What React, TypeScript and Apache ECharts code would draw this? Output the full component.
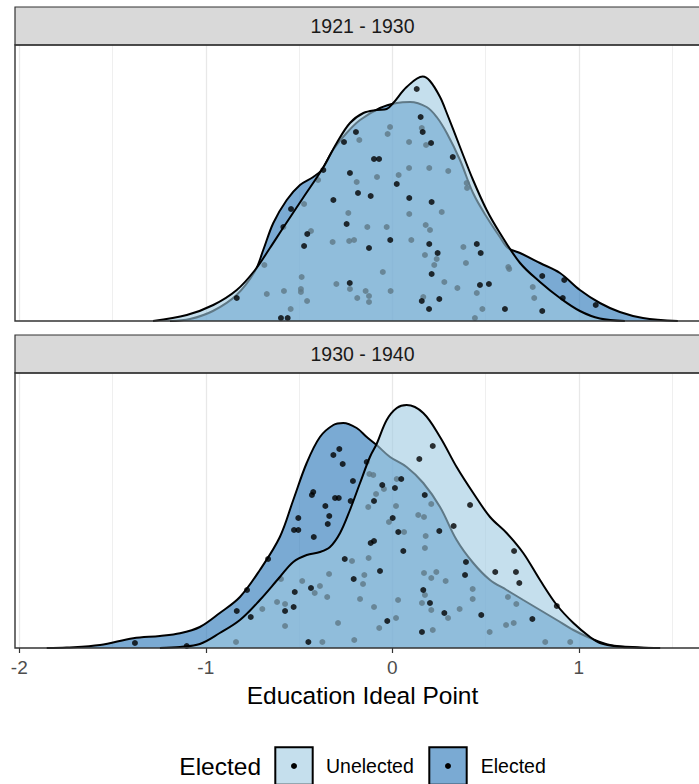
import React, { useEffect, useRef } from "react";
import * as echarts from "echarts";

// ---- Data ----
const panelTitles = ["1921 - 1930", "1930 - 1940"];
const groupNames = ["Unelected", "Elected"];
const legendTitle = "Elected";
const xTitle = "Education Ideal Point";
const tickValues = [-2, -1, 0, 1];

// density curves: [ideal point, scaled density]
const densUnelected1921: [number, number][] = [
  [-1.283, 0], [-1.102, 0.06], [-0.96, 0.16], [-0.834, 0.31], [-0.736, 0.51], [-0.656, 0.73],
  [-0.586, 0.93], [-0.479, 1.23], [-0.372, 1.53], [-0.298, 1.78], [-0.227, 1.98], [-0.155, 2.08],
  [-0.084, 2.11], [-0.03, 2.12], [0.005, 2.18], [0.077, 2.34], [0.163, 2.445], [0.202, 2.4],
  [0.256, 2.24], [0.292, 2.08], [0.363, 1.74], [0.433, 1.41], [0.506, 1.11], [0.577, 0.88],
  [0.685, 0.58], [0.792, 0.39], [0.899, 0.23], [1.006, 0.1], [1.113, 0.025], [1.247, 0],
];
const densElected1921: [number, number][] = [
  [-1.192, 0], [-1.085, 0.02], [-0.962, 0.1], [-0.835, 0.26], [-0.736, 0.5], [-0.692, 0.71],
  [-0.638, 0.98], [-0.566, 1.21], [-0.495, 1.36], [-0.424, 1.44], [-0.379, 1.51], [-0.318, 1.71],
  [-0.245, 1.88], [-0.173, 2.01], [-0.066, 2.13], [0.024, 2.18], [0.095, 2.19], [0.184, 2.14],
  [0.238, 2.04], [0.292, 1.88], [0.363, 1.61], [0.433, 1.28], [0.506, 1.04], [0.577, 0.84],
  [0.62, 0.73], [0.685, 0.68], [0.792, 0.58], [0.899, 0.48], [1.006, 0.31], [1.113, 0.18],
  [1.22, 0.09], [1.344, 0.03], [1.531, 0],
];
const densUnelected1930: [number, number][] = [
  [-1.246, 0], [-1.138, 0.01], [-1.032, 0.04], [-0.925, 0.15], [-0.817, 0.28], [-0.71, 0.48],
  [-0.603, 0.71], [-0.531, 0.86], [-0.459, 0.93], [-0.388, 0.96], [-0.334, 1.01], [-0.28, 1.15],
  [-0.227, 1.38], [-0.173, 1.65], [-0.12, 1.91], [-0.084, 2.04], [-0.03, 2.28], [0.024, 2.4],
  [0.077, 2.43], [0.166, 2.35], [0.256, 2.11], [0.345, 1.81], [0.434, 1.55], [0.524, 1.31],
  [0.613, 1.15], [0.702, 0.95], [0.792, 0.68], [0.882, 0.43], [0.971, 0.25], [1.06, 0.11],
  [1.113, 0.05], [1.205, 0.015], [1.328, 0.003], [1.436, 0],
];
const densElected1930: [number, number][] = [
  [-1.853, 0], [-1.746, 0.005], [-1.567, 0.03], [-1.389, 0.097], [-1.246, 0.12], [-1.138, 0.147],
  [-1.032, 0.21], [-0.925, 0.35], [-0.817, 0.51], [-0.71, 0.78], [-0.603, 1.11], [-0.531, 1.48],
  [-0.459, 1.85], [-0.388, 2.11], [-0.316, 2.23], [-0.263, 2.25], [-0.191, 2.2], [-0.137, 2.11],
  [-0.084, 2.03], [-0.012, 1.91], [0.077, 1.81], [0.166, 1.65], [0.256, 1.41], [0.345, 1.08],
  [0.434, 0.85], [0.524, 0.68], [0.613, 0.58], [0.702, 0.48], [0.792, 0.38], [0.882, 0.28],
  [0.971, 0.18], [1.06, 0.1], [1.167, 0.03], [1.328, 0.005], [1.436, 0],
];

// jittered points: [ideal point, jitter height]
const ptsUnelected1921: [number, number][] = [
  [0.131, 2.32], [0.152, 2.04], [0.163, 1.89], [0.208, 1.78], [-0.195, 1.89], [-0.259, 1.79],
  [-0.098, 1.62], [-0.071, 1.62], [-0.37, 1.51], [-0.227, 1.48], [0.024, 1.37], [-0.184, 1.28],
  [-0.116, 1.25], [-0.316, 1.21], [0.091, 1.23], [0.211, 1.19], [-0.245, 0.97], [-0.456, 0.87],
  [-0.473, 0.75], [-0.011, 0.81], [-0.125, 0.73], [0.198, 0.77], [0.243, 0.68], [0.211, 0.47],
  [-0.228, 0.38], [-0.834, 0.23], [0.158, 0.2], [0.197, 0.12], [-0.597, 0.03], [-0.561, 0.03],
  [0.252, 0.22], [0.324, 1.64], [0.453, 0.77], [0.474, 0.68], [0.47, 0.36], [0.518, 0.37],
  [0.604, 0.12], [0.804, 0.1],
];
const ptsElected1921: [number, number][] = [
  [-0.543, 1.12], [-0.584, 0.94], [0.804, 0.45], [0.922, 0.41], [0.914, 0.23], [1.091, 0.16],
  [-0.012, 1.94], [-0.025, 1.87], [-0.177, 1.81], [0.09, 1.79], [0.158, 1.93], [0.181, 1.76],
  [0.09, 1.53], [0.198, 1.53], [-0.082, 1.44], [0.034, 1.46], [-0.191, 1.39], [-0.398, 1.41],
  [-0.473, 1.17], [-0.236, 1.08], [0.091, 1.07], [-0.134, 0.94], [-0.03, 0.94], [0.179, 0.96],
  [0.202, 0.91], [-0.436, 0.9], [-0.32, 0.79], [-0.231, 0.8], [-0.205, 0.81], [0.102, 0.81],
  [0.175, 0.66], [0.225, 0.56], [0.238, 0.62], [-0.686, 0.56], [-0.051, 0.49], [-0.486, 0.44],
  [-0.49, 0.32], [-0.49, 0.29], [-0.3, 0.37], [-0.227, 0.32], [-0.581, 0.3], [-0.673, 0.27],
  [-0.143, 0.3], [-0.125, 0.25], [-0.009, 0.3], [-0.188, 0.23], [-0.457, 0.2], [-0.125, 0.19],
  [-0.545, 0.12], [0.166, 0.24], [0.3, 1.5], [0.399, 1.38], [0.401, 1.33], [0.265, 1.09],
  [0.381, 0.74], [0.395, 0.58], [0.279, 0.39], [0.349, 0.33], [0.453, 0.28], [0.483, 0.12],
  [0.443, 0.03], [0.622, 0.54], [0.627, 0.52], [0.753, 0.34], [0.761, 0.23],
];
const ptsUnelected1930: [number, number][] = [
  [-0.098, 1.47], [-0.054, 1.63], [0.014, 1.6], [0.002, 1.3], [0.032, 1.16], [-0.116, 1.05],
  [-0.098, 1.07], [-0.255, 0.89], [-0.066, 0.77], [-0.207, 0.69], [-0.436, 0.6], [-0.523, 0.56],
  [-0.759, 0.31], [-0.575, 0.37], [-0.529, 0.41], [-0.027, 0.27], [-0.45, 0.06], [0.217, 2.02],
  [0.145, 1.89], [0.048, 1.69], [0.174, 1.53], [0.417, 1.43], [0.329, 1.22], [0.252, 1.17],
  [0.059, 0.97], [0.653, 0.97], [0.395, 0.86], [0.39, 0.73], [0.552, 0.76], [0.663, 0.76],
  [0.681, 0.65], [0.166, 0.58], [0.202, 0.45], [0.279, 0.35], [0.477, 0.33], [0.751, 0.29],
  [0.882, 0.42], [0.159, 0.16],
];
const ptsElected1930: [number, number][] = [
  [-0.284, 1.99], [-0.316, 1.93], [-0.266, 1.84], [-0.137, 1.86], [-0.211, 1.67], [-0.424, 1.56],
  [-0.431, 1.53], [-0.307, 1.5], [-0.287, 1.5], [-0.223, 1.47], [-0.359, 1.42], [-0.504, 1.3],
  [-0.338, 1.32], [-0.346, 1.24], [-0.527, 1.18], [-0.504, 1.18], [-0.421, 1.11], [-0.666, 0.89],
  [-0.779, 0.58], [-0.834, 0.37], [-1.102, 0.02], [-1.38, 0.05], [-0.123, 1.74], [-0.102, 1.73],
  [-0.129, 1.41], [-0.087, 1.54], [-0.045, 1.59], [0.024, 1.69], [-0.018, 1.26], [0.02, 1.42],
  [-0.216, 0.87], [-0.127, 0.9], [-0.339, 0.74], [-0.15, 0.73], [-0.157, 0.64], [-0.597, 0.69],
  [-0.483, 0.67], [-0.388, 0.62], [-0.416, 0.55], [-0.349, 0.51], [-0.173, 0.49], [0.031, 0.48],
  [-0.098, 0.41], [-0.618, 0.46], [-0.575, 0.44], [-0.697, 0.39], [-0.291, 0.25], [0.02, 0.3],
  [-0.07, 0.2], [-0.575, 0.22], [-0.838, 0.06], [-0.375, 0.06], [-0.204, 0.08], [0.209, 1.44],
  [0.139, 1.33], [0.17, 1.31], [0.063, 1.16], [0.179, 1.12], [0.175, 1.0], [0.17, 0.75],
  [0.236, 0.76], [0.209, 0.7], [0.286, 0.67], [0.431, 0.59], [0.431, 0.49], [0.175, 0.53],
  [0.159, 0.45], [0.209, 0.38], [0.361, 0.39], [0.299, 0.3], [0.62, 0.51], [0.665, 0.44],
  [0.217, 0.18], [0.522, 0.16], [0.61, 0.23], [0.651, 0.25], [0.82, 0.06], [0.954, 0.06],
];

const densities = [
  { unelected: densUnelected1921, elected: densElected1921 },
  { unelected: densUnelected1930, elected: densElected1930 },
];
const points = [
  { unelected: ptsUnelected1921, elected: ptsElected1921 },
  { unelected: ptsUnelected1930, elected: ptsElected1930 },
];
const yMax = [2.76, 2.75];

// ---- Styling / layout ----
const FONT = "'Liberation Sans', Arial, Helvetica, sans-serif";
const COL_UNELECTED = "#9ecae1";
const COL_ELECTED = "#2171b5";
const FILL_ALPHA = 0.6;
const LINE_W = 2;
const DOT = 6;
const W = 699;
const H = 784;
const PANEL_L = 15;
const PANEL_R = 710;
const X_MIN = -3;
const X_MAX = 2;
const PX_PER_UNIT = 186.5;
const X_ZERO = 392.3;
const gridLeft = X_ZERO + X_MIN * PX_PER_UNIT;
const gridRight = W - (X_ZERO + X_MAX * PX_PER_UNIT);
const panels = [
  { stripTop: 7, top: 45, height: 276 },
  { stripTop: 335, top: 373, height: 275 },
];

export default function App() {
  const ref = useRef<HTMLDivElement>(null);

  useEffect(() => {
    if (!ref.current) return;
    const chart = echarts.init(ref.current, undefined, { renderer: "svg", width: W, height: H });

    const grids = panels.map((p) => ({
      left: gridLeft,
      right: gridRight,
      top: p.top,
      height: p.height,
      containLabel: false,
      outerBoundsMode: "none",
    }));

    const xAxes = panels.map((_, i) => ({
      type: "value",
      gridIndex: i,
      min: X_MIN,
      max: X_MAX,
      interval: 1,
      axisLine: { show: false },
      axisTick: {
        show: i === 1,
        length: 5,
        lineStyle: { color: "#333333", width: 1.2 },
      },
      axisLabel: {
        show: i === 1,
        color: "#4d4d4d",
        fontSize: 19,
        fontFamily: FONT,
        margin: 10,
        formatter: (v: number) => (tickValues.includes(v) ? String(v) : ""),
      },
      splitLine: { show: true, lineStyle: { color: "#e8e8e8", width: 1.3 } },
      minorTick: { show: false, splitNumber: 2 },
      minorSplitLine: { show: true, lineStyle: { color: "#ebebeb", width: 0.8 } },
    }));

    const yAxes = panels.map((_, i) => ({
      type: "value",
      gridIndex: i,
      min: 0,
      max: yMax[i],
      show: false,
      splitLine: { show: false },
    }));

    const series: any[] = [];
    panels.forEach((_, i) => {
      series.push({
        name: groupNames[1],
        type: "line",
        xAxisIndex: i,
        yAxisIndex: i,
        data: densities[i].elected,
        smooth: 0.35,
        showSymbol: false,
        symbol: "none",
        lineStyle: { color: "#000", width: LINE_W },
        areaStyle: { color: COL_ELECTED, opacity: FILL_ALPHA },
        z: 2,
        silent: true,
      });
      series.push({
        name: groupNames[1] + " pts",
        type: "scatter",
        xAxisIndex: i,
        yAxisIndex: i,
        data: points[i].elected,
        symbol: "circle",
        symbolSize: DOT,
        itemStyle: { color: "#000" },
        z: 3,
        silent: true,
      });
      series.push({
        name: groupNames[0],
        type: "line",
        xAxisIndex: i,
        yAxisIndex: i,
        data: densities[i].unelected,
        smooth: 0.35,
        showSymbol: false,
        symbol: "none",
        lineStyle: { color: "#000", width: LINE_W },
        areaStyle: { color: COL_UNELECTED, opacity: FILL_ALPHA },
        z: 4,
        silent: true,
      });
      series.push({
        name: groupNames[0] + " pts",
        type: "scatter",
        xAxisIndex: i,
        yAxisIndex: i,
        data: points[i].unelected,
        symbol: "circle",
        symbolSize: DOT,
        itemStyle: { color: "#000" },
        z: 5,
        silent: true,
      });
    });

    const txt = (text: string, x: number, y: number, size: number, color: string, align: string) => ({
      type: "text",
      x,
      y,
      z: 110,
      silent: true,
      style: {
        text,
        fill: color,
        fontSize: size,
        fontFamily: FONT,
        textAlign: align,
        align,
        textVerticalAlign: "middle",
        verticalAlign: "middle",
      },
    });

    const graphics: any[] = [];
    panels.forEach((p, i) => {
      graphics.push({
        type: "rect",
        z: 100,
        silent: true,
        shape: { x: PANEL_L, y: p.stripTop, width: PANEL_R - PANEL_L, height: p.top - p.stripTop },
        style: { fill: "#d9d9d9", stroke: "#333333", lineWidth: 1.2 },
      });
      graphics.push(txt(panelTitles[i], (PANEL_L + PANEL_R) / 2, (p.stripTop + p.top) / 2, 19.5, "#1a1a1a", "center"));
      graphics.push({
        type: "rect",
        z: 100,
        silent: true,
        shape: { x: PANEL_L, y: p.top, width: PANEL_R - PANEL_L, height: p.height },
        style: { fill: "none", stroke: "#333333", lineWidth: 1.4 },
      });
    });
    graphics.push(txt(xTitle, (PANEL_L + PANEL_R) / 2, 695, 24.5, "#000", "center"));

    // legend
    const legY = 766;
    const keySize = 37.4;
    graphics.push(txt(legendTitle, 179.3, legY, 24.5, "#000", "left"));
    const keys = [
      { x: 275.3, color: COL_UNELECTED, label: groupNames[0], lx: 326 },
      { x: 429.3, color: COL_ELECTED, label: groupNames[1], lx: 480.7 },
    ];
    keys.forEach((k) => {
      graphics.push({
        type: "rect",
        z: 100,
        silent: true,
        shape: { x: k.x, y: legY - keySize / 2, width: keySize, height: keySize },
        style: { fill: "#ffffff", stroke: "none" },
      });
      graphics.push({
        type: "rect",
        z: 101,
        silent: true,
        shape: { x: k.x, y: legY - keySize / 2, width: keySize, height: keySize },
        style: { fill: k.color, opacity: FILL_ALPHA, stroke: "none" },
      });
      graphics.push({
        type: "rect",
        z: 102,
        silent: true,
        shape: { x: k.x, y: legY - keySize / 2, width: keySize, height: keySize },
        style: { fill: "none", stroke: "#000", lineWidth: LINE_W },
      });
      graphics.push({
        type: "circle",
        z: 103,
        silent: true,
        shape: { cx: k.x + keySize / 2, cy: legY, r: DOT / 2 },
        style: { fill: "#000" },
      });
      graphics.push(txt(k.label, k.lx, legY, 19.5, "#000", "left"));
    });

    chart.setOption({
      animation: false,
      backgroundColor: "#ffffff",
      grid: grids,
      xAxis: xAxes,
      yAxis: yAxes,
      series,
      graphic: { elements: graphics },
    });

    return () => {
      chart.dispose();
    };
  }, []);

  return (
    <div
      style={{
        position: "fixed",
        left: 0,
        top: 0,
        width: W,
        height: H,
        overflow: "hidden",
        background: "#fff",
      }}
    >
      <div ref={ref} style={{ width: W, height: H }} />
    </div>
  );
}
